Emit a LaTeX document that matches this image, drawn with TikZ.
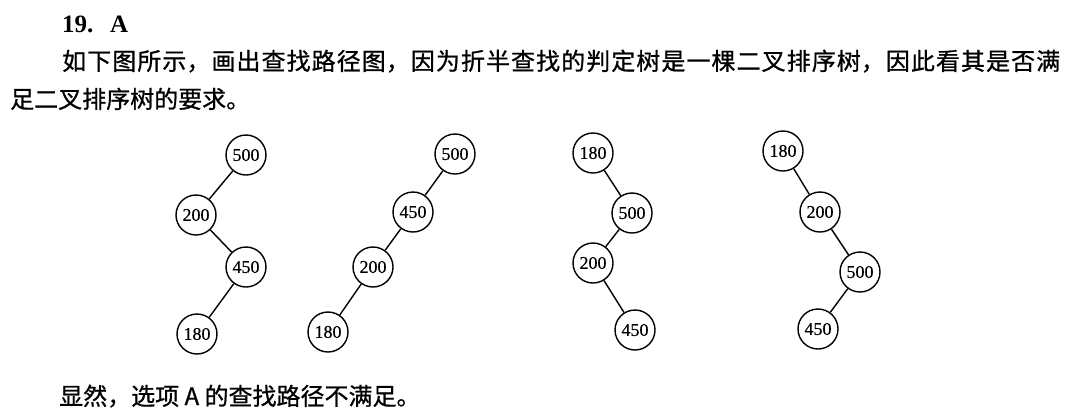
\documentclass[tikz,border=0pt]{standalone}
\usepackage{fontspec}
\setmainfont{Liberation Serif}
\newfontfamily\cjk[FakeBold=0.8]{Noto Sans CJK SC}
\newfontfamily\numfont[FakeBold=0.5]{Liberation Serif}
\XeTeXlinebreaklocale "zh"
\XeTeXlinebreakskip=0pt plus 3pt
\begin{document}
\begin{tikzpicture}[x=1pt,y=-1pt,
  tn/.style={circle,draw,line width=1.4pt,minimum size=40pt,inner sep=0pt,font=\numfont\fontsize{18}{18}\selectfont},
  ed/.style={line width=1.4pt},
  txt/.style={anchor=base west,inner sep=0pt,font=\cjk\fontsize{24}{24}\selectfont},
  head/.style={anchor=base west,inner sep=0pt,font=\bfseries\fontsize{25}{25}\selectfont}]
\path[use as bounding box] (0,0) rectangle (1071,413);
% text
\node[head] (h1) at (62,32) {19.};
\node[head] (h2) at (110,32) {A};
\node[txt,text width=998pt,align=justify] (l2) at (62,70) {\noindent 如下图所示，画出查找路径图，因为折半查找的判定树是一棵二叉排序树，因此看其是否满\parfillskip=0pt\par};
\node[txt] (l3) at (10,108) {足二叉排序树的要求。};
\node[txt] (l4) at (59,405) {显然，选项 A 的查找路径不满足。};
% tree 1
\node[tn] (a1) at (246,155) {500};
\node[tn] (b1) at (196,215) {200};
\node[tn] (c1) at (246,267) {450};
\node[tn] (d1) at (197,334) {180};
\draw[ed] (a1) -- (b1) (b1) -- (c1) (c1) -- (d1);
% tree 2
\node[tn] (a2) at (455,154) {500};
\node[tn] (b2) at (413,212) {450};
\node[tn] (c2) at (373,267) {200};
\node[tn] (d2) at (328,332) {180};
\draw[ed] (a2) -- (b2) (b2) -- (c2) (c2) -- (d2);
% tree 3
\node[tn] (a3) at (593,153) {180};
\node[tn] (b3) at (632,213) {500};
\node[tn] (c3) at (593,263) {200};
\node[tn] (d3) at (635,330) {450};
\draw[ed] (a3) -- (b3) (b3) -- (c3) (c3) -- (d3);
% tree 4
\node[tn] (a4) at (783,151) {180};
\node[tn] (b4) at (820,212) {200};
\node[tn] (c4) at (860,272) {500};
\node[tn] (d4) at (818,329) {450};
\draw[ed] (a4) -- (b4) (b4) -- (c4) (c4) -- (d4);
\end{tikzpicture}
\end{document}
